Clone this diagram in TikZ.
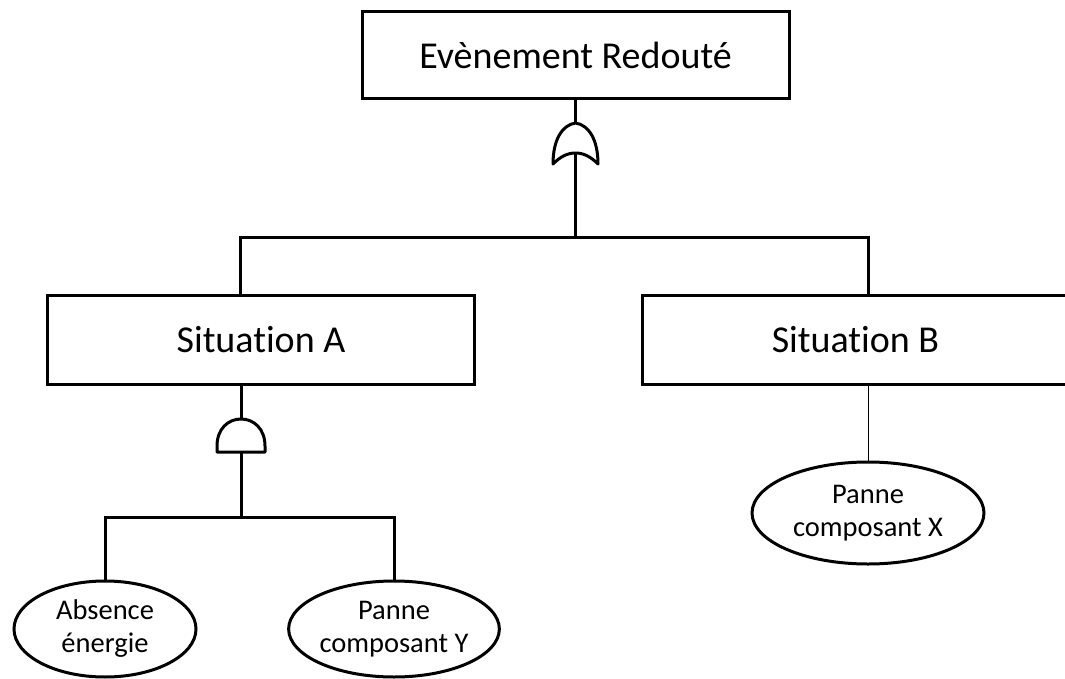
\documentclass[tikz,border=0pt]{standalone}
\usepackage{fontspec}
\setmainfont{Carlito}[Ligatures=NoCommon]
\usetikzlibrary{shapes.geometric,calc}
\newcommand{\twolines}[2]{\raisebox{-5.5pt}{\begin{tabular}{@{}c@{}}#1\\#2\end{tabular}}}
\begin{document}
\begin{tikzpicture}[x=1pt,y=-1pt,
  evbox/.style={draw, line width=3pt, minimum width=427pt, minimum height=87pt, inner sep=0pt, font=\fontsize{38}{44}\selectfont},
  basic/.style={draw, ellipse, line width=3pt, inner sep=0pt, font=\fontsize{28.5}{33}\selectfont},
  link/.style={line width=3pt},
  thinlink/.style={line width=1pt},
  gate/.style={line width=3pt, line join=round}]
\useasboundingbox (0,0) rectangle (1065,679);
\clip (0,0) rectangle (1065,679);
% events
\node[evbox] (top) at (575.5,55.5) {Evènement Redouté};
\node[evbox, minimum height=89pt] (A) at (261,339.5) {Situation A};
\node[evbox, minimum height=89pt] (B) at (855.5,339.5) {Situation B};
\node[basic, minimum width=182pt, minimum height=96pt] (E1) at (105,629) {\twolines{Absence}{énergie}};
\node[basic, minimum width=207pt, minimum height=96pt] (E2) at (394,629) {\twolines{Panne}{composant Y}};
\node[basic, minimum width=232pt, minimum height=102pt] (E3) at (868,513) {\twolines{Panne}{composant X}};
% OR gate
\coordinate (orT) at (575.5,123);
\coordinate (orB) at (575.5,153);
\draw[gate] (575.5,123) .. controls (562,125) and (553,140) .. (553,164)
  .. controls (560,157) and (567,153) .. (575.5,153)
  .. controls (584,153) and (591,157) .. (598,164)
  .. controls (598,140) and (589,125) .. (575.5,123) -- cycle;
\draw[link] (top.south) -- (orT);
\coordinate (busM) at (575.5,237);
\coordinate (busL) at (240,237);
\coordinate (busR) at (868,237);
\draw[link] (orB) -- (busM);
\draw[link] (A.north -| busL) -- (busL) -- (busR) -- (B.north -| busR);
% AND gate
\coordinate (andT) at (241,419);
\coordinate (andB) at (241,452);
\draw[gate] (217,452) -- (217,446) .. controls (217,429) and (228,419) .. (241,419)
  .. controls (254,419) and (265,429) .. (265,446) -- (265,452) -- cycle;
\draw[link] (A.south -| andT) -- (andT);
\coordinate (bus2M) at (241,517);
\draw[link] (andB) -- (bus2M);
\draw[link] (E1.north) -- (E1.north |- bus2M) -- (E2.north |- bus2M) -- (E2.north);
\draw[thinlink] (B.south -| E3.north) -- (E3.north);
\end{tikzpicture}
\end{document}
